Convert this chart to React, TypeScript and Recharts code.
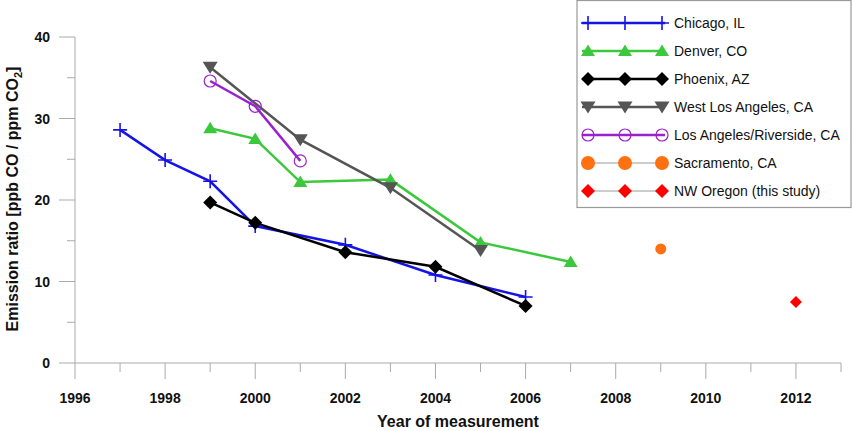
import React from 'react';
import { LineChart, Line, XAxis, YAxis } from 'recharts';

// ---- data ----
const chicagoYears = [1997, 1998, 1999, 2000, 2002, 2004, 2006];
const chicagoValues = [28.6, 24.9, 22.3, 16.8, 14.5, 10.8, 8.1];
const denverYears = [1999, 2000, 2001, 2003, 2005, 2007];
const denverValues = [28.8, 27.5, 22.2, 22.5, 14.8, 12.4];
const phoenixYears = [1999, 2000, 2002, 2004, 2006];
const phoenixValues = [19.7, 17.2, 13.6, 11.8, 7.0];
const westLAYears = [1999, 2001, 2003, 2005];
const westLAValues = [36.3, 27.4, 21.5, 13.8];
const laRiversideYears = [1999, 2000, 2001];
const laRiversideValues = [34.6, 31.5, 24.8];
const sacramentoYears = [2009];
const sacramentoValues = [14.0];
const oregonYears = [2012];
const oregonValues = [7.5];

const xTicks = [1996, 1997, 1998, 1999, 2000, 2001, 2002, 2003, 2004, 2005, 2006, 2007, 2008, 2009, 2010, 2011, 2012, 2013];
const yTicks = [0, 5, 10, 15, 20, 25, 30, 35, 40];

const toData = (years: number[], values: number[]) => years.map((y, i) => ({ year: y, value: values[i] }));

const FONT = 'Liberation Sans, Arial, Helvetica, sans-serif';
const AXIS = '#aaaaaa';

type Shape = 'plus' | 'triUp' | 'diamond' | 'triDown' | 'openCircle' | 'circle' | 'smallDiamond' | 'bigCircle';

function marker(shape: Shape, cx: number, cy: number, color: string, key?: any) {
  switch (shape) {
    case 'plus':
      return <path key={key} d={`M${cx - 7},${cy}h14M${cx},${cy - 7}v14`} stroke={color} strokeWidth={1.6} fill="none" />;
    case 'triUp':
      return <polygon key={key} points={`${cx},${cy - 6.5} ${cx + 7},${cy + 5} ${cx - 7},${cy + 5}`} fill={color} />;
    case 'triDown':
      return <polygon key={key} points={`${cx},${cy + 6.5} ${cx + 7.5},${cy - 5.5} ${cx - 7.5},${cy - 5.5}`} fill={color} />;
    case 'diamond':
      return <polygon key={key} points={`${cx},${cy - 7} ${cx + 7},${cy} ${cx},${cy + 7} ${cx - 7},${cy}`} fill={color} />;
    case 'smallDiamond':
      return <polygon key={key} points={`${cx},${cy - 6} ${cx + 6},${cy} ${cx},${cy + 6} ${cx - 6},${cy}`} fill={color} />;
    case 'openCircle':
      return <circle key={key} cx={cx} cy={cy} r={6} stroke={color} strokeWidth={1.2} fill="none" />;
    case 'circle':
      return <circle key={key} cx={cx} cy={cy} r={5.5} fill={color} />;
    case 'bigCircle':
      return <circle key={key} cx={cx} cy={cy} r={7} fill={color} />;
  }
  return null;
}

const legendShape = (s: Shape): Shape => (s === 'circle' ? 'bigCircle' : s === 'smallDiamond' ? 'diamond' : s);

const series: { name: string; years: number[]; values: number[]; color: string; shape: Shape; line: boolean }[] = [
  { name: 'Chicago, IL', years: chicagoYears, values: chicagoValues, color: '#1414e6', shape: 'plus', line: true },
  { name: 'Denver, CO', years: denverYears, values: denverValues, color: '#3cc83c', shape: 'triUp', line: true },
  { name: 'Phoenix, AZ', years: phoenixYears, values: phoenixValues, color: '#000000', shape: 'diamond', line: true },
  { name: 'West Los Angeles, CA', years: westLAYears, values: westLAValues, color: '#555555', shape: 'triDown', line: true },
  { name: 'Los Angeles/Riverside, CA', years: laRiversideYears, values: laRiversideValues, color: '#9922cc', shape: 'openCircle', line: true },
  { name: 'Sacramento, CA', years: sacramentoYears, values: sacramentoValues, color: '#ff7010', shape: 'circle', line: false },
  { name: 'NW Oregon (this study)', years: oregonYears, values: oregonValues, color: '#ff0000', shape: 'smallDiamond', line: false },
];

const XTick = (props: any) => {
  const { x, y, payload } = props;
  const v = payload.value;
  const major = v % 2 === 0;
  return (
    <g>
      <line x1={x} x2={x} y1={y} y2={y + (major ? 16 : 9)} stroke={AXIS} strokeWidth={1} />
      {major && (
        <text x={x} y={y + 40} textAnchor="middle" fontFamily={FONT} fontWeight="bold" fontSize={14} fill="#111">
          {v}
        </text>
      )}
    </g>
  );
};

const YTick = (props: any) => {
  const { x, y, payload } = props;
  const v = payload.value;
  const major = v % 10 === 0;
  return (
    <g>
      <line x1={x} x2={x - (major ? 16 : 8)} y1={y} y2={y} stroke={AXIS} strokeWidth={1} />
      {major && (
        <text x={x - 25} y={y + 5} textAnchor="end" fontFamily={FONT} fontWeight="bold" fontSize={14} fill="#111">
          {v}
        </text>
      )}
    </g>
  );
};

const YLabel = (props: any) => {
  const vb = props.viewBox || { x: 0, y: 37, width: 75, height: 326 };
  const cx = vb.x + 18;
  const cy = vb.y + vb.height / 2 - 1;
  return (
    <text
      x={cx}
      y={cy}
      transform={`rotate(-90 ${cx} ${cy})`}
      textAnchor="middle"
      fontFamily={FONT}
      fontWeight="bold"
      fontSize={16}
      fill="#111"
    >
      Emission ratio [ppb CO / ppm CO
      <tspan fontSize={11} dy={4}>2</tspan>
      <tspan dy={-4}>]</tspan>
    </text>
  );
};

const XLabel = (props: any) => {
  const vb = props.viewBox || { x: 75, y: 363, width: 766, height: 68 };
  return (
    <text x={vb.x + vb.width / 2} y={vb.y + 64} textAnchor="middle" fontFamily={FONT} fontWeight="bold" fontSize={16} fill="#111">
      Year of measurement
    </text>
  );
};

const LegendBox = () => {
  const rowY0 = 23;
  const step = 28;
  return (
    <svg width={277} height={210} style={{ position: 'absolute', left: 576, top: 0 }}>
      <rect x={1} y={0.5} width={274} height={207} fill="#ffffff" stroke="#999999" strokeWidth={1.2} />
      {series.map((s, i) => {
        const cy = rowY0 + i * step;
        return (
          <g key={s.name}>
            <line
              x1={6}
              x2={89}
              y1={cy}
              y2={cy}
              stroke={s.line ? s.color : '#999999'}
              strokeWidth={s.line ? 2.5 : 1}
            />
            {[12, 49, 86].map((mx, j) => marker(legendShape(s.shape), mx, cy, s.color, j))}
            <text x={98} y={cy + 5} fontFamily={FONT} fontSize={14} fill="#111">
              {s.name}
            </text>
          </g>
        );
      })}
    </svg>
  );
};

export default function App() {
  return (
    <div style={{ position: 'absolute', left: 0, top: 0, width: 853, height: 431, background: '#fff' }}>
      <LineChart width={853} height={431} margin={{ top: 37, right: 12, bottom: 0, left: 0 }}>
        <XAxis
          type="number"
          dataKey="year"
          domain={[1996, 2013]}
          ticks={xTicks}
          interval={0}
          allowDuplicatedCategory={false}
          height={68}
          stroke={AXIS}
          tickSize={0}
          tickMargin={0}
          tickLine={false}
          tick={<XTick />}
          label={{ content: (p: any) => <XLabel {...p} /> }}
        />
        <YAxis
          type="number"
          dataKey="value"
          domain={[0, 40]}
          ticks={yTicks}
          interval={0}
          width={75}
          stroke={AXIS}
          tickSize={0}
          tickMargin={0}
          tickLine={false}
          tick={<YTick />}
          label={{ content: (p: any) => <YLabel {...p} /> }}
        />
        {series.map((s) => (
          <Line
            key={s.name}
            data={toData(s.years, s.values)}
            dataKey="value"
            name={s.name}
            type="linear"
            stroke={s.line ? s.color : 'none'}
            strokeWidth={2.5}
            isAnimationActive={false}
            dot={(p: any) => marker(s.shape, p.cx, p.cy, s.color, `${s.name}-${p.index}`)}
            activeDot={false}
          />
        ))}
      </LineChart>
      <LegendBox />
    </div>
  );
}
